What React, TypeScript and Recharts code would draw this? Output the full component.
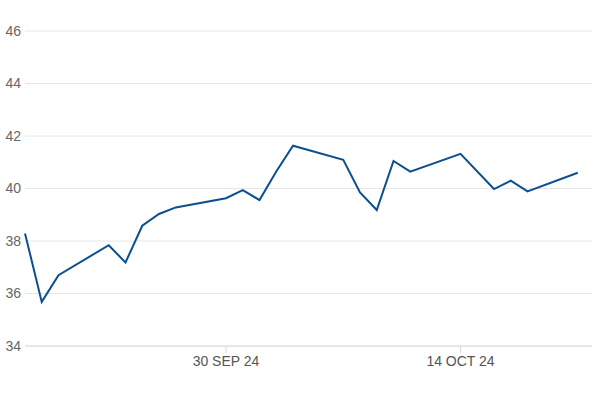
import { LineChart, Line, XAxis, YAxis, CartesianGrid } from "recharts";

const dates = [
  "2024-09-18", "2024-09-19", "2024-09-20", "2024-09-23", "2024-09-24",
  "2024-09-25", "2024-09-26", "2024-09-27", "2024-09-30", "2024-10-01",
  "2024-10-02", "2024-10-03", "2024-10-04", "2024-10-07", "2024-10-08",
  "2024-10-09", "2024-10-10", "2024-10-11", "2024-10-14", "2024-10-16",
  "2024-10-17", "2024-10-18", "2024-10-21",
];
const values = [
  38.29, 35.68, 36.7, 37.84, 37.18,
  38.58, 39.03, 39.28, 39.63, 39.94,
  39.56, 40.65, 41.63, 41.09, 39.85,
  39.18, 41.05, 40.64, 41.32, 39.98,
  40.3, 39.89, 40.6,
];
const xTickDates = ["2024-09-30", "2024-10-14"];
const xTickLabels = ["30 SEP 24", "14 OCT 24"];
const yTicks = [34, 36, 38, 40, 42, 44, 46];

const DAY = 86400000;
const data = dates.map((d, i) => ({ t: Date.parse(d), v: values[i] }));
const xTicks = xTickDates.map((d) => Date.parse(d));
const xMin = Date.parse(dates[0]);
const xMax = Date.parse(dates[dates.length - 1]) + 0.85 * DAY;

function formatTick(t: number): string {
  const i = xTicks.indexOf(t);
  return i >= 0 ? xTickLabels[i] : "";
}

export default function App() {
  return (
    <div style={{ position: "absolute", left: 0, top: 0, background: "#fff" }}>
      <LineChart
        width={600}
        height={400}
        data={data}
        margin={{ top: 31, right: 8, left: 0, bottom: 24 }}
        style={{ fontFamily: "'Liberation Sans', Arial, sans-serif" }}
      >
        <CartesianGrid vertical={false} stroke="#e6e6e6" />
        <XAxis
          dataKey="t"
          type="number"
          scale="time"
          domain={[xMin, xMax]}
          ticks={xTicks}
          tickFormatter={formatTick}
          height={30}
          stroke="#d6dae2"
          tickSize={7}
          tickMargin={3}
          tick={{ fontSize: 14, fill: "#555" }}
        />
        <YAxis
          domain={[34, 46]}
          ticks={yTicks}
          width={25}
          axisLine={false}
          tickLine={false}
          tickSize={0}
          tickMargin={4}
          tick={{ fontSize: 14, fill: "#666" }}
        />
        <Line
          type="linear"
          dataKey="v"
          stroke="#0c4f91"
          strokeWidth={2}
          dot={false}
          isAnimationActive={false}
        />
      </LineChart>
    </div>
  );
}
